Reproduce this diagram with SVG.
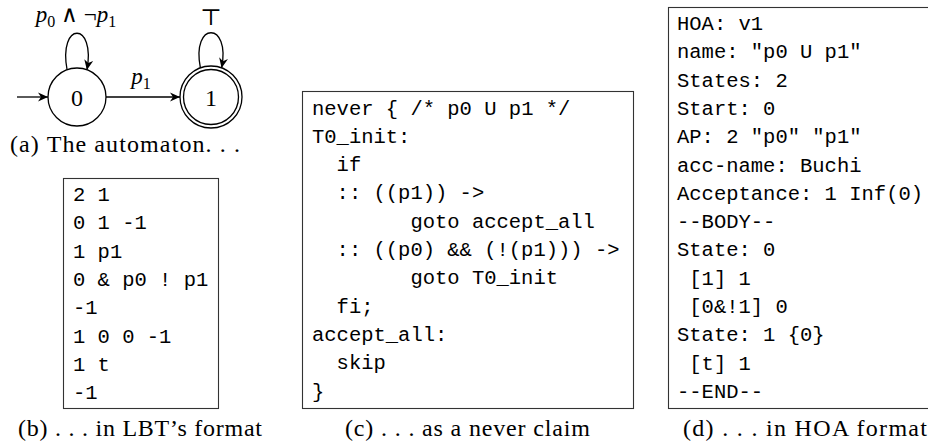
<svg xmlns="http://www.w3.org/2000/svg" width="928" height="447" viewBox="0 0 928 447">
<defs>
<marker id="arr" markerUnits="userSpaceOnUse" markerWidth="12" markerHeight="10" refX="10" refY="5" orient="auto" viewBox="0 0 12 10">
<path d="M0,0.5 L10,5 L0,9.5 L3,5 Z" fill="#000"/>
</marker>
</defs>
<style>
.st{fill:none;stroke:#000;stroke-width:1.3}
.ed{fill:none;stroke:#000;stroke-width:1.3}
.lbl{font-family:"Liberation Serif","DejaVu Serif",serif;font-size:24px;fill:#000}
.math{font-family:"Liberation Serif","DejaVu Serif",serif;font-size:23px;fill:#000}
.it{font-style:italic}
.sub{font-size:16px}
.box{fill:#fff;stroke:#333;stroke-width:1.1}
.mono{font-family:"Liberation Mono","DejaVu Sans Mono",monospace;font-size:20.5px;fill:#000}
.cap{font-family:"Liberation Serif","DejaVu Serif",serif;font-size:24px;fill:#000}
</style>

<g id="connectors">
<line class="ed" x1="17" y1="97" x2="48" y2="97" marker-end="url(#arr)"/>
<line class="ed" x1="106" y1="97" x2="180" y2="97" marker-end="url(#arr)"/>
<path class="ed" d="M67.1,70 C58,21 96,21 86.9,70" marker-end="url(#arr)"/>
<path class="ed" d="M200.4,68 C191,21 231,21 221.6,68" marker-end="url(#arr)"/>
<text class="math" x="76" y="22" text-anchor="middle"><tspan class="it">p</tspan><tspan class="sub" dy="5">0</tspan><tspan dy="-5"> ∧ ¬</tspan><tspan class="it">p</tspan><tspan class="sub" dy="5">1</tspan></text>
<text class="math" x="141" y="84" text-anchor="middle"><tspan class="it">p</tspan><tspan class="sub" dy="5">1</tspan></text>
<text class="math" x="211" y="25" text-anchor="middle" font-family="DejaVu Sans">⊤</text>
</g>

<g id="state0">
<circle class="st" cx="77" cy="97" r="29"/>
<text class="lbl" x="77" y="106" text-anchor="middle">0</text>
</g>
<g id="state1">
<circle class="st" cx="211" cy="97" r="31"/>
<circle class="st" cx="211" cy="97" r="27.5"/>
<text class="lbl" x="211" y="106" text-anchor="middle">1</text>
</g>
<text class="cap" x="10" y="152" textLength="230">(a) The automaton. . .</text>

<g id="lbt">
<rect class="box" x="63.5" y="178.5" width="155" height="230"/>
<text class="mono" x="73" y="201">2 1</text>
<text class="mono" x="73" y="229.3">0 1 -1</text>
<text class="mono" x="73" y="257.6">1 p1</text>
<text class="mono" x="73" y="285.9">0 &amp; p0 ! p1</text>
<text class="mono" x="73" y="314.2">-1</text>
<text class="mono" x="73" y="342.5">1 0 0 -1</text>
<text class="mono" x="73" y="370.8">1 t</text>
<text class="mono" x="73" y="399.1">-1</text>
</g>
<text class="cap" x="18" y="436" textLength="244">(b) . . . in LBT’s format</text>

<g id="never">
<rect class="box" x="302.5" y="91.5" width="331" height="317"/>
<text class="mono" x="312" y="114.5">never { /* p0 U p1 */</text>
<text class="mono" x="312" y="142.8">T0_init:</text>
<text class="mono" x="336.6" y="171.1">if</text>
<text class="mono" x="336.6" y="199.4">:: ((p1)) -&gt;</text>
<text class="mono" x="410.4" y="227.7">goto accept_all</text>
<text class="mono" x="336.6" y="256">:: ((p0) &amp;&amp; (!(p1))) -&gt;</text>
<text class="mono" x="410.4" y="284.3">goto T0_init</text>
<text class="mono" x="336.6" y="312.6">fi;</text>
<text class="mono" x="312" y="340.9">accept_all:</text>
<text class="mono" x="336.6" y="369.2">skip</text>
<text class="mono" x="312" y="397.5">}</text>
</g>
<text class="cap" x="345" y="436" textLength="245">(c) . . . as a never claim</text>

<g id="hoa">
<rect class="box" x="668.5" y="7.5" width="275" height="401"/>
<text class="mono" x="677" y="30">HOA: v1</text>
<text class="mono" x="677" y="58.3">name: "p0 U p1"</text>
<text class="mono" x="677" y="86.6">States: 2</text>
<text class="mono" x="677" y="114.9">Start: 0</text>
<text class="mono" x="677" y="143.2">AP: 2 "p0" "p1"</text>
<text class="mono" x="677" y="171.5">acc-name: Buchi</text>
<text class="mono" x="677" y="199.8">Acceptance: 1 Inf(0)</text>
<text class="mono" x="677" y="228.1">--BODY--</text>
<text class="mono" x="677" y="256.4">State: 0</text>
<text class="mono" x="689.3" y="284.7">[1] 1</text>
<text class="mono" x="689.3" y="313">[0&amp;!1] 0</text>
<text class="mono" x="677" y="341.3">State: 1 {0}</text>
<text class="mono" x="689.3" y="369.6">[t] 1</text>
<text class="mono" x="677" y="397.9">--END--</text>
</g>
<text class="cap" x="683" y="436" textLength="244">(d) . . . in HOA format</text>
</svg>
